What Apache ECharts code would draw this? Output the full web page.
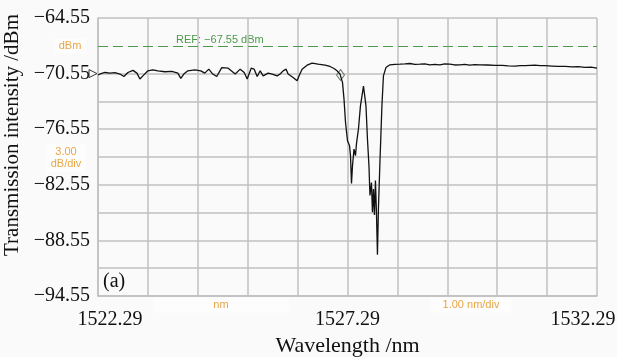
<!DOCTYPE html>
<html>
<head>
<meta charset="utf-8">
<script src="https://cdn.jsdelivr.net/npm/echarts@6/dist/echarts.min.js"></script>
<style>
html,body{margin:0;padding:0;background:#fafafa;}
#chart{width:617px;height:357px;}
</style>
</head>
<body>
<div id="chart"></div>
<script>
// ---- data ----
const wavelength = [
1522.29,1522.35,1522.43,1522.53,1522.63,1522.73,1522.81,1522.89,1522.99,1523.07,
1523.13,1523.19,1523.29,1523.39,1523.49,1523.63,1523.77,1523.89,1523.95,1524.01,
1524.09,1524.23,1524.35,1524.43,1524.51,1524.59,1524.67,1524.77,1524.90,1524.96,
1525.04,1525.14,1525.22,1525.28,1525.36,1525.42,1525.48,1525.54,1525.60,1525.70,
1525.78,1525.88,1525.94,1526.00,1526.06,1526.10,1526.20,1526.28,1526.32,1526.38,
1526.48,1526.58,1526.70,1526.84,1526.94,1527.02,1527.08,1527.14,1527.19,1527.22,
1527.25,1527.29,1527.33,1527.35,1527.37,1527.39,1527.42,1527.45,1527.47,1527.51,
1527.55,1527.61,1527.63,1527.66,1527.69,1527.72,1527.74,1527.77,1527.79,1527.81,
1527.83,1527.85,1527.87,1527.89,1527.91,1527.94,1527.98,1528.01,1528.06,1528.14,
1528.24,1528.34,1528.44,1528.54,1528.64,1528.74,1528.84,1528.94,1529.04,1529.14,
1529.24,1529.34,1529.44,1529.54,1529.64,1529.74,1529.84,1529.94,1530.10,1530.25,
1530.39,1530.51,1530.65,1530.75,1530.85,1530.95,1531.05,1531.15,1531.25,1531.39,
1531.51,1531.65,1531.79,1531.91,1532.05,1532.17,1532.29
];
const intensity = [
-70.70,-70.55,-70.43,-70.50,-70.45,-70.60,-70.86,-70.43,-70.20,-70.50,
-71.14,-70.80,-70.25,-70.14,-70.25,-70.35,-70.30,-70.50,-71.07,-70.60,
-70.25,-70.14,-70.25,-70.50,-70.07,-70.60,-70.86,-69.90,-69.97,-70.25,
-70.60,-70.07,-70.43,-71.14,-69.97,-70.07,-70.86,-70.25,-70.80,-70.50,
-70.60,-70.80,-70.60,-70.25,-70.07,-70.60,-70.97,-71.32,-70.78,-70.07,
-69.64,-69.42,-69.53,-69.64,-69.78,-70.00,-70.25,-70.60,-71.50,-73.30,
-75.80,-77.80,-78.30,-79.40,-82.40,-80.50,-78.70,-79.40,-78.10,-76.50,
-74.00,-71.90,-72.00,-74.00,-77.60,-80.50,-83.70,-82.30,-85.50,-83.00,
-85.80,-82.10,-85.50,-90.10,-85.10,-80.10,-74.00,-70.80,-69.90,-69.60,
-69.55,-69.53,-69.50,-69.46,-69.55,-69.53,-69.50,-69.60,-69.55,-69.60,
-69.50,-69.53,-69.62,-69.60,-69.55,-69.64,-69.58,-69.60,-69.62,-69.66,
-69.67,-69.72,-69.74,-69.68,-69.70,-69.66,-69.64,-69.70,-69.70,-69.74,
-69.78,-69.76,-69.82,-69.80,-69.88,-69.86,-69.95
];
const xTickLabels = ['1522.29','1527.29','1532.29'];
const yTickLabels = ['\u221294.55','\u221288.55','\u221282.55','\u221276.55','\u221270.55','\u221264.55'];
const refLevel = -67.55;
const markerPoint = [1527.15, -70.70];

// axis origin (ticks counted from these)
const xStart = 1522.29, xSpan = 10, xStep = 1;
const yStart = -94.55, ySpan = 30, yStep = 3;

const seriesData = wavelength.map((w, i) => [+(w - xStart).toFixed(4), +(intensity[i] - yStart).toFixed(4)]);

const serif = '"Liberation Serif", "DejaVu Serif", serif';
const sans = '"Liberation Sans", Arial, sans-serif';
const orange = '#e9a544';
const green = '#4a9a4a';
const gridColor = '#c0c0c0';
const bg = '#fafafa';
const boxBg = '#fdfdfd';

// hide the grid line that sits under the REF dashed line
const yGridColors = [];
for (let k = 0; k <= ySpan / yStep; k++) {
  yGridColors.push(Math.abs(k * yStep - (refLevel - yStart)) < 1e-6 ? bg : gridColor);
}

const chart = echarts.init(document.getElementById('chart'), null, {renderer: 'canvas'});
chart.setOption({
  animation: false,
  backgroundColor: bg,
  grid: {left: 98, right: 20, top: 18, bottom: 61, containLabel: false, outerBoundsMode: 'none'},
  xAxis: {
    type: 'value', min: 0, max: xSpan, interval: xStep,
    name: 'Wavelength /nm', nameLocation: 'middle', nameGap: 32,
    nameTextStyle: {fontFamily: serif, fontSize: 22, color: '#111'},
    axisLine: {show: true, lineStyle: {color: gridColor, width: 1.5}},
    axisTick: {show: false},
    splitLine: {show: true, lineStyle: {color: gridColor, width: 1.5}},
    axisLabel: {
      margin: 14, fontFamily: serif, fontSize: 20, color: '#111',
      formatter: function (v, i) {
        const k = Math.round(v / xStep);
        if (k % 5 !== 0) return '';
        const lab = xTickLabels[k / 5];
        if (k === 0) return '{first|' + lab + '}';
        if (k === xSpan) return '{last|' + lab + '}';
        return lab;
      },
      rich: {
        first: {fontFamily: serif, fontSize: 20, color: '#111', padding: [0, 0, 0, 24]},
        last: {fontFamily: serif, fontSize: 20, color: '#111', padding: [0, 28, 0, 0]}
      }
    }
  },
  yAxis: {
    type: 'value', min: 0, max: ySpan, interval: yStep,
    name: 'Transmission intensity /dBm', nameLocation: 'middle', nameGap: 66,
    nameTextStyle: {fontFamily: serif, fontSize: 21, color: '#111', padding: [0, 0, 0, 44]},
    axisLine: {show: true, lineStyle: {color: gridColor, width: 1.5}},
    axisTick: {show: false},
    splitLine: {show: true, lineStyle: {color: yGridColors, width: 1.5}},
    axisLabel: {
      margin: 8, fontFamily: serif, fontSize: 20, color: '#111',
      formatter: function (v) {
        const k = Math.round(v / yStep);
        return k % 2 === 0 ? yTickLabels[k / 2] : '';
      }
    }
  },
  series: [{
    type: 'line',
    data: seriesData,
    showSymbol: false,
    symbol: 'none',
    lineStyle: {color: '#111', width: 1.3},
    z: 5,
    markLine: {
      silent: true, symbol: ['none', 'none'],
      label: {show: false},
      lineStyle: {color: green, type: [10, 5], width: 1.2, opacity: 1},
      data: [{yAxis: refLevel - yStart}]
    },
    markPoint: {
      silent: true,
      label: {show: false},
      data: [
        {coord: [markerPoint[0] - xStart, markerPoint[1] - yStart], symbol: 'diamond', symbolSize: [8, 11],
         itemStyle: {color: 'rgba(0,0,0,0)', borderColor: '#667766', borderWidth: 1}},
        {coord: [0, -70.55 - yStart], symbol: 'triangle', symbolSize: [8, 8], symbolRotate: -90, symbolOffset: [-5, 0],
         itemStyle: {color: 'rgba(0,0,0,0)', borderColor: '#333', borderWidth: 1}}
      ]
    }
  }],
  graphic: [
    {type: 'text', left: 176, top: 34, style: {text: 'REF: \u221267.55 dBm', font: '11px ' + sans, fill: green}},
    {type: 'text', x: 70, y: 46, style: {text: 'dBm', font: '11px ' + sans, fill: orange, align: 'center', verticalAlign: 'middle', backgroundColor: boxBg, padding: [2, 4]}},
    {type: 'text', x: 66, y: 158, style: {text: '3.00\ndB/div', font: '11px ' + sans, fill: orange, align: 'center', verticalAlign: 'middle', lineHeight: 12, backgroundColor: boxBg, padding: [2, 4]}},
    {type: 'text', x: 221, y: 305, style: {text: 'nm', font: '11px ' + sans, fill: orange, align: 'center', verticalAlign: 'middle', backgroundColor: boxBg, padding: [2, 60]}},
    {type: 'text', x: 471, y: 305, style: {text: '1.00 nm/div', font: '11px ' + sans, fill: orange, align: 'center', verticalAlign: 'middle', backgroundColor: boxBg, padding: [2, 12]}},
    {type: 'text', x: 103, y: 282, style: {text: '(a)', font: '20px ' + serif, fill: '#111', align: 'left', verticalAlign: 'middle'}}
  ]
});
</script>
</body>
</html>
